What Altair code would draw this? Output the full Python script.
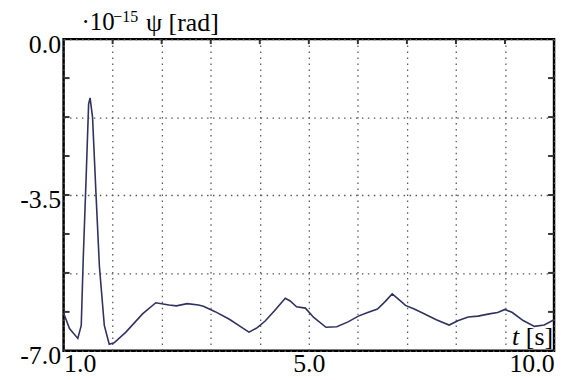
import altair as alt
import pandas as pd

# curve samples (t in plot units 0..10, psi in 1e-15 rad)
t_vals = [0.0, 0.12, 0.29, 0.36, 0.40, 0.46, 0.51, 0.54, 0.59, 0.66, 0.73, 0.83, 0.93, 1.03,
          1.27, 1.61, 1.88, 2.15, 2.30, 2.52, 2.75, 2.85, 3.09, 3.38, 3.60, 3.78, 3.95, 4.11,
          4.30, 4.52, 4.62, 4.75, 4.93, 5.10, 5.35, 5.57, 5.80, 6.01, 6.20, 6.40, 6.55, 6.70,
          6.85, 6.97, 7.15, 7.34, 7.60, 7.86, 8.05, 8.25, 8.45, 8.68, 8.85, 9.00, 9.15, 9.37,
          9.60, 9.80, 10.0]
psi_vals = [-6.15, -6.50, -6.72, -6.43, -4.95, -3.09, -1.46, -1.32, -1.75, -3.46, -5.10, -6.43,
            -6.85, -6.82, -6.58, -6.17, -5.92, -5.97, -5.99, -5.94, -5.97, -6.00, -6.12, -6.29,
            -6.45, -6.58, -6.48, -6.33, -6.10, -5.82, -5.88, -6.01, -6.04, -6.25, -6.47, -6.46,
            -6.35, -6.22, -6.14, -6.06, -5.90, -5.72, -5.86, -5.98, -6.06, -6.16, -6.30, -6.42,
            -6.32, -6.24, -6.22, -6.17, -6.14, -6.07, -6.14, -6.32, -6.45, -6.42, -6.30]

x_grid = [0, 1, 2, 3, 4, 5, 6, 7, 8, 9, 10]
x_label_values = [0, 5, 10]
x_label_texts = ["1.0", "5.0", "10.0"]

y_grid = [0, -0.875, -1.75, -2.625, -3.5, -4.375, -5.25, -6.125, -7]
y_label_values = [0, -3.5, -7]
y_label_texts = ["0.0", "-3.5", "-7.0"]

title_parts = ["\u00b710", "\u221215", "\u03c8 [rad]"]
unit_parts = ["t", "[s]"]

FONT = "Liberation Serif, Times New Roman, serif"


def label_expr(values, texts):
    expr = "''"
    for v, t in reversed(list(zip(values, texts))):
        expr = f"datum.value == {v} ? '{t}' : ({expr})"
    return expr


df = pd.DataFrame({"t": t_vals, "psi": psi_vals})
x_scale = alt.Scale(domain=[0, 10], nice=False, zero=False)
y_scale = alt.Scale(domain=[-7, 0], nice=False, zero=False)

grid_style = dict(grid=True, gridColor="#5a5a5a", gridDash=[1.5, 4.5], gridWidth=1.3,
                  ticks=False, tickSize=0, domain=False, labelFont=FONT, labelFontSize=26,
                  labelColor="black", labelOverlap=False, title=None)

line = alt.Chart(df).mark_line(color="#30335f", strokeWidth=1.6).encode(
    x=alt.X("t:Q", scale=x_scale,
            axis=alt.Axis(values=x_grid, labelExpr=label_expr(x_label_values, x_label_texts),
                          labelFlush=True, labelPadding=0, **grid_style)),
    y=alt.Y("psi:Q", scale=y_scale,
            axis=alt.Axis(values=y_grid, labelExpr=label_expr(y_label_values, y_label_texts),
                          labelFlush=False, labelPadding=3, labelOffset=5, **grid_style)),
)

# short inward tick marks on the frame at the grid positions
xt = pd.DataFrame({"t": x_grid[1:-1]})
yt = pd.DataFrame({"psi": y_grid[1:-1]})
tick_style = dict(color="#333333", strokeWidth=2)
top_ticks = alt.Chart(xt).mark_rule(**tick_style).encode(
    x=alt.X("t:Q", scale=x_scale), y=alt.value(0), y2=alt.value(5))
left_ticks = alt.Chart(yt).mark_rule(**tick_style).encode(
    y=alt.Y("psi:Q", scale=y_scale), x=alt.value(0), x2=alt.value(6))
right_ticks = alt.Chart(yt).mark_rule(**tick_style).encode(
    y=alt.Y("psi:Q", scale=y_scale), x=alt.value(488), x2=alt.value(494))

one = pd.DataFrame({"k": [0]})

def txt(s, x, y, size, align="left", style="normal"):
    return alt.Chart(one).mark_text(font=FONT, fontSize=size, align=align, baseline="alphabetic",
                                    fontStyle=style, color="black").encode(
        x=alt.value(x), y=alt.value(y), text=alt.value(s))

texts = [
    txt(title_parts[0], 18, -9, 25),
    txt(title_parts[1], 50, -17, 16),
    txt(title_parts[2], 83, -8, 26),
    txt(unit_parts[0], 459, 308, 26, align="right", style="italic"),
    txt(unit_parts[1], 493, 308, 26, align="right"),
]

chart = alt.layer(line, top_ticks, left_ticks, right_ticks, *texts).properties(
    width=494, height=314,
    autosize=alt.AutoSizeParams(type="none"),
    padding={"left": 56, "top": 30, "right": 6, "bottom": 27},
    background="white",
).configure_view(stroke="black", strokeWidth=2.5)

chart.save("out.html", embed_options={"renderer": "svg", "actions": False})
